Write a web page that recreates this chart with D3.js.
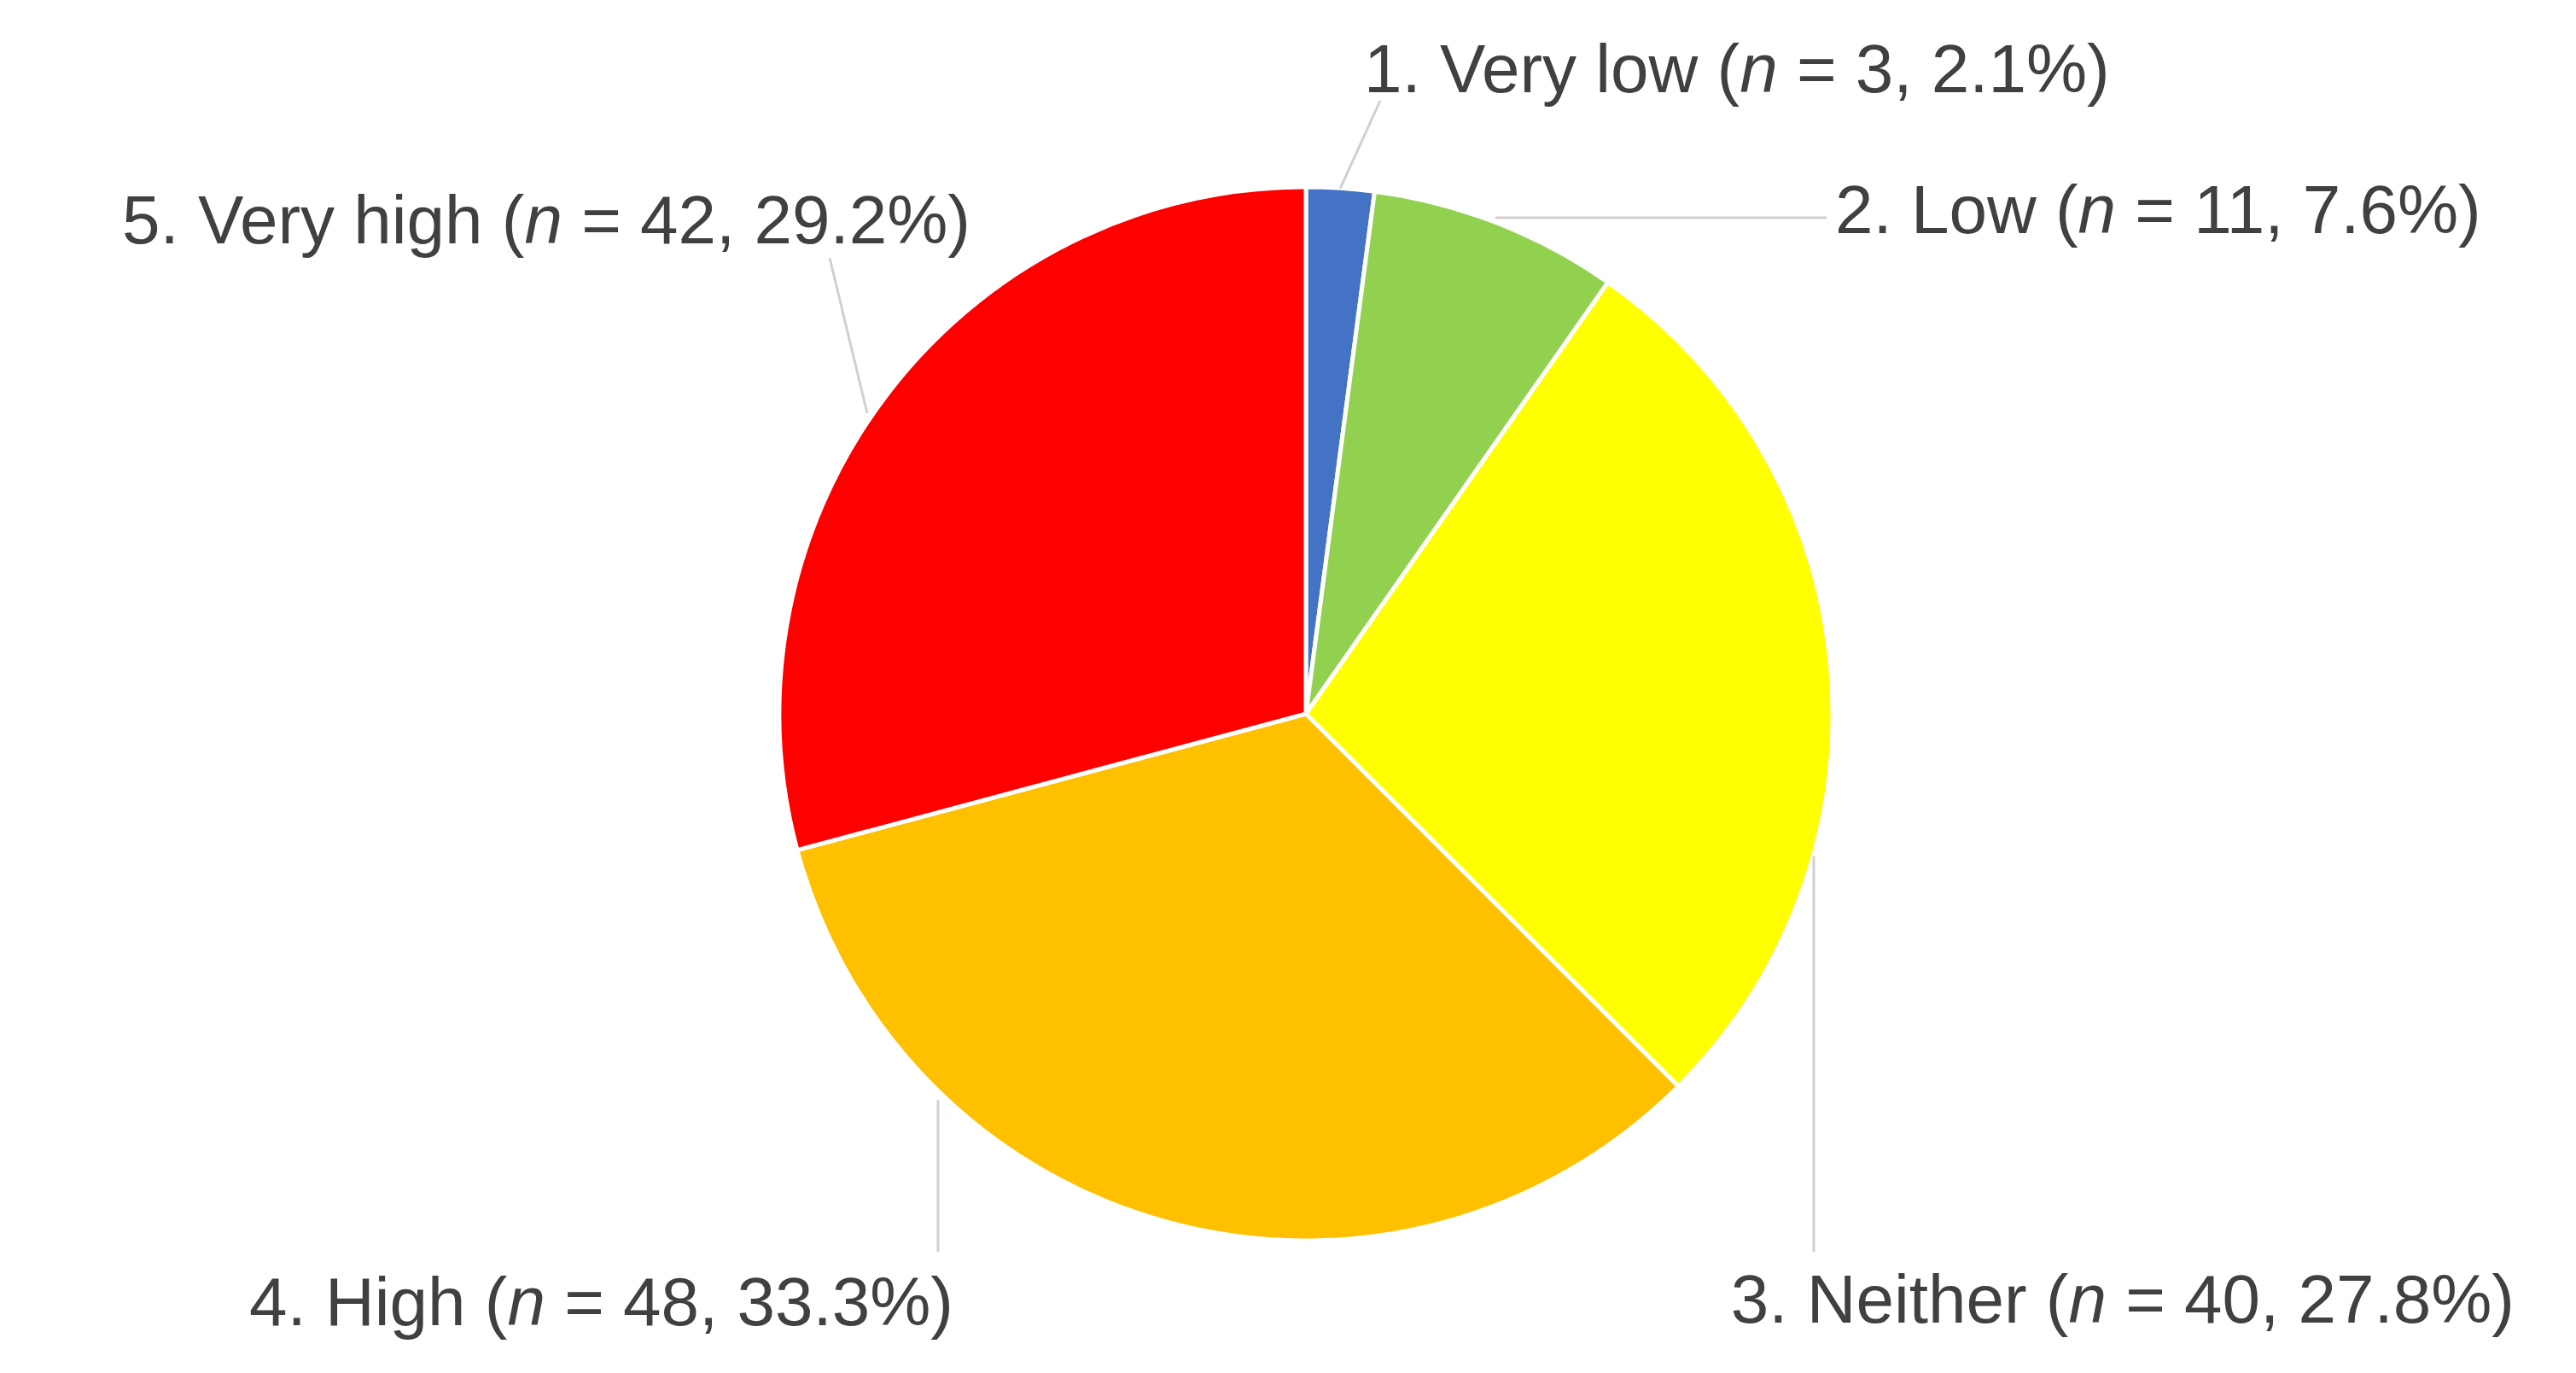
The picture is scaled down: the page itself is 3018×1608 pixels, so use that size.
<!DOCTYPE html>
<html><head><meta charset="utf-8">
<script src="https://cdn.jsdelivr.net/npm/d3@7"></script>
<style>body{margin:0;background:#fff}</style></head>
<body><svg id="c" width="3018" height="1608"></svg>
<script>
const categories = ["1. Very low", "2. Low", "3. Neither", "4. High", "5. Very high"];
const counts = [3, 11, 40, 48, 42];
const percents = ["2.1%", "7.6%", "27.8%", "33.3%", "29.2%"];
const colors = ["#4472C4", "#92D050", "#FFFF00", "#FFC000", "#FF0000"];

const W = 3018, H = 1608, cx = 1530, cy = 836, R = 617;
const svg = d3.select("#c");
const g = svg.append("g").attr("transform", `translate(${cx},${cy})`);
const pie = d3.pie().sort(null).value(d => d)(counts);
const arc = d3.arc().innerRadius(0).outerRadius(R);
g.selectAll("path").data(pie).join("path")
  .attr("d", arc).attr("fill", (d, i) => colors[i])
  .attr("stroke", "#fff").attr("stroke-width", 5).attr("stroke-linejoin", "round");

// label layout (absolute positions)
const labels = [
  {x: 1598, y: 108, anchor: "start", line: [[1617, 118]]},
  {x: 2150, y: 273, anchor: "start", line: [[1752, 255], [2140, 255]]},
  {x: 2946, y: 1549, anchor: "end", line: [[2125, 1003], [2125, 1466]]},
  {x: 1117, y: 1552, anchor: "end", line: [[1099, 1288], [1099, 1466]]},
  {x: 1137, y: 285, anchor: "end", line: [[1016, 484], [972, 302]]}
];
labels.forEach((L, i) => {
  let pts = L.line;
  if (i === 0) {
    const a = (pie[0].startAngle + pie[0].endAngle) / 2;
    pts = [[cx + R * Math.sin(a), cy - R * Math.cos(a)], pts[0]];
  }
  svg.append("path").attr("d", d3.line()(pts))
    .attr("fill", "none").attr("stroke", "#d0d0d0").attr("stroke-width", 3);
  const t = svg.append("text").attr("x", L.x).attr("y", L.y)
    .attr("text-anchor", L.anchor).attr("fill", "#404040")
    .attr("font-family", "Liberation Sans, Arial, sans-serif").attr("font-size", 80);
  t.append("tspan").text(categories[i] + " (");
  t.append("tspan").attr("font-style", "italic").text("n");
  t.append("tspan").text(` = ${counts[i]}, ${percents[i]})`);
});
</script></body></html>
